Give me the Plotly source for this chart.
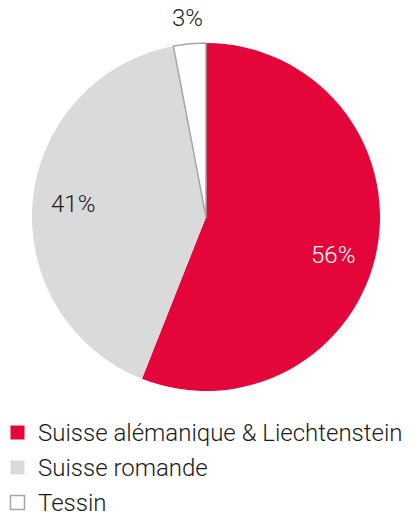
import math
import plotly.graph_objects as go

labels = ["Suisse alémanique & Liechtenstein", "Suisse romande", "Tessin"]
values = [56, 41, 3]
colors = ["#E4053A", "#DADADA", "#FFFFFF"]
line_colors = ["#E4053A", "#DADADA", "#A6A6A6"]
line_widths = [0, 0, 1.5]
text_colors = ["#FFFFFF", "#1A1A1A", "#1A1A1A"]
label_radius = [0.76, 0.77, 1.15]   # relative to pie radius
label_angle_shift = [6, 0, 0]        # degrees

W, H = 416, 518
cx, cy, R = 206, 217, 174  # pie centre/radius in figure pixels

fig = go.Figure(go.Pie(
    labels=labels,
    values=values,
    sort=False,
    direction="clockwise",
    rotation=0,
    marker=dict(colors=colors, line=dict(color=line_colors, width=line_widths)),
    textinfo="none",
    domain=dict(x=[(cx - R) / W, (cx + R) / W], y=[(H - cy - R) / H, (H - cy + R) / H]),
    hoverinfo="skip",
    showlegend=False,
))

FONT = "Roboto"
total = sum(values)
cum = 0
annotations = []
shapes = []
for i, v in enumerate(values):
    mid = (cum + v / 2) / total * 360 + label_angle_shift[i]
    cum += v
    r = R * label_radius[i]
    px = cx + r * math.sin(math.radians(mid))
    py = cy - r * math.cos(math.radians(mid))
    annotations.append(dict(
        x=px / W, y=1 - py / H, xref="paper", yref="paper",
        text=f"{round(v / total * 100)}%", showarrow=False,
        xanchor="center", yanchor="middle",
        font=dict(family=FONT, size=24, weight=300, color=text_colors[i]),
    ))

# custom legend
for i, lab in enumerate(labels):
    yc = 432.5 + 35 * i
    x0 = 10.5
    shapes.append(dict(
        type="rect", xref="paper", yref="paper",
        x0=x0 / W, x1=(x0 + 14) / W, y0=1 - (yc + 7) / H, y1=1 - (yc - 7) / H,
        fillcolor=colors[i], line=dict(color=line_colors[i], width=1.5 if i == 2 else 0),
    ))
    annotations.append(dict(
        x=36 / W, y=1 - (yc + 0.5) / H, xref="paper", yref="paper",
        text=lab, showarrow=False, xanchor="left", yanchor="middle",
        font=dict(family=FONT, size=24, weight=300, color="#1A1A1A"),
    ))

fig.update_layout(
    width=W, height=H,
    margin=dict(l=0, r=0, t=0, b=0),
    paper_bgcolor="white",
    plot_bgcolor="white",
    showlegend=False,
    annotations=annotations,
    shapes=shapes,
)

fig.write_html(
    "out.html",
    config={"displayModeBar": False},
    post_script="document.body.style.margin='0';document.body.style.overflow='hidden';",
)
